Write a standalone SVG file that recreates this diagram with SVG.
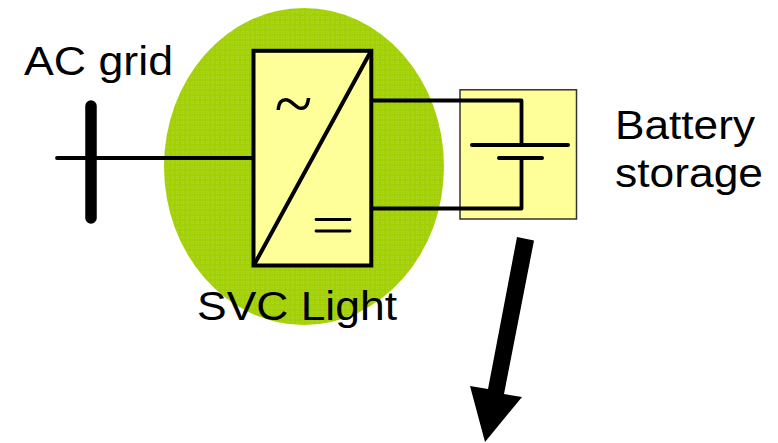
<svg xmlns="http://www.w3.org/2000/svg" width="778" height="443" viewBox="0 0 778 443">
<style>
.t{font-family:"Liberation Sans",Arial,sans-serif;font-size:40px;fill:#000}
.w{fill:none;stroke:#000;stroke-linecap:round;stroke-linejoin:round}
</style>
<defs>
<pattern id="dots" width="5" height="5" patternUnits="userSpaceOnUse">
<rect width="5" height="5" fill="#a3d005"/>
<rect x="1" y="1" width="3" height="3" fill="#aad41e"/>
<rect x="2" y="2" width="1" height="1" fill="#9fcb05"/>
</pattern>
</defs>
<rect width="778" height="443" fill="#fff"/>
<g id="svc-area"><ellipse cx="304" cy="166.500" rx="140" ry="158.500" fill="url(#dots)"/></g>
<g id="battery-box"><rect x="460" y="89.800" width="116.500" height="129.200" fill="#ffff99" stroke="#333" stroke-width="1.500"/></g>
<g id="converter">
<rect x="253.500" y="50.800" width="117.800" height="214.700" fill="#ffff99" stroke="#000" stroke-width="4"/>
<path class="w" stroke-width="4" d="M371 51L254 265"/>
<text x="293.500" y="127" text-anchor="middle" font-family="Liberation Serif,serif" font-size="70">~</text>
<path class="w" stroke-width="2.800" stroke-linecap="butt" d="M316 219.500H350M316 231H350"/>
</g>
<g id="connectors">
<path class="w" stroke-width="3.800" d="M372 100.500H521.500V143M521.500 158V208.500H372"/>
<path class="w" stroke-width="3.800" d="M57 158H253"/>
</g>
<g id="busbar"><path class="w" stroke-width="11.500" d="M91 106V218"/></g>
<g id="battery-symbol"><path class="w" stroke-width="4" d="M472 145H568M499 158H542"/></g>
<g id="arrow"><path d="M517 237L534 240.500L504 394L522 397L485 442L470 386L488 389Z" fill="#000"/></g>
<g id="labels">
<text class="t" x="24" y="75" textLength="149" lengthAdjust="spacingAndGlyphs">AC grid</text>
<text class="t" x="197" y="320" textLength="200" lengthAdjust="spacingAndGlyphs">SVC Light</text>
<text class="t" x="615" y="138.500" textLength="140" lengthAdjust="spacingAndGlyphs">Battery</text>
<text class="t" x="615" y="186.500" textLength="148" lengthAdjust="spacingAndGlyphs">storage</text>
</g>
</svg>
